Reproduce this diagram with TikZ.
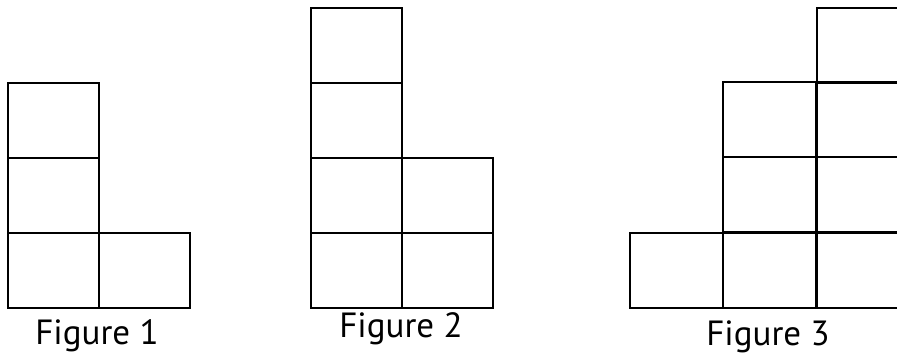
\documentclass[tikz,border=0pt]{standalone}
\usepackage{fontspec}
\setmainfont{PT Sans}

\begin{document}
\begin{tikzpicture}[x=1pt, y=-1pt,
    cell/.style={draw, line width=2pt, minimum width=91pt, minimum height=75pt,
        inner sep=0pt, anchor=north west},
    caption/.style={font=\fontsize{35}{40}\selectfont, anchor=base}]
    \useasboundingbox (0,0) rectangle (897,358);

    % figure 1
    \foreach \x/\y [count=\i] in {7/82, 7/157, 7/232, 98/232}
        \node[cell] (one\i) at (\x,\y) {};
    \node[caption] (capone) at (97,344) {Figure 1};

    % figure 2
    \foreach \x/\y [count=\i] in {310/7, 310/82, 310/157, 310/232, 401/157, 401/232}
        \node[cell] (two\i) at (\x,\y) {};
    \node[caption] (captwo) at (401,337) {Figure 2};

    % figure 3, right column runs off the page
    \foreach \x/\y [count=\i] in {629/232, 722/81, 722/156, 722/232,
                                  816/7, 816/81, 816/156, 816/232}
        \node[cell, minimum width=93pt] (three\i) at (\x,\y) {};
    \node[caption] (capthree) at (768,345) {Figure 3};
\end{tikzpicture}
\end{document}
